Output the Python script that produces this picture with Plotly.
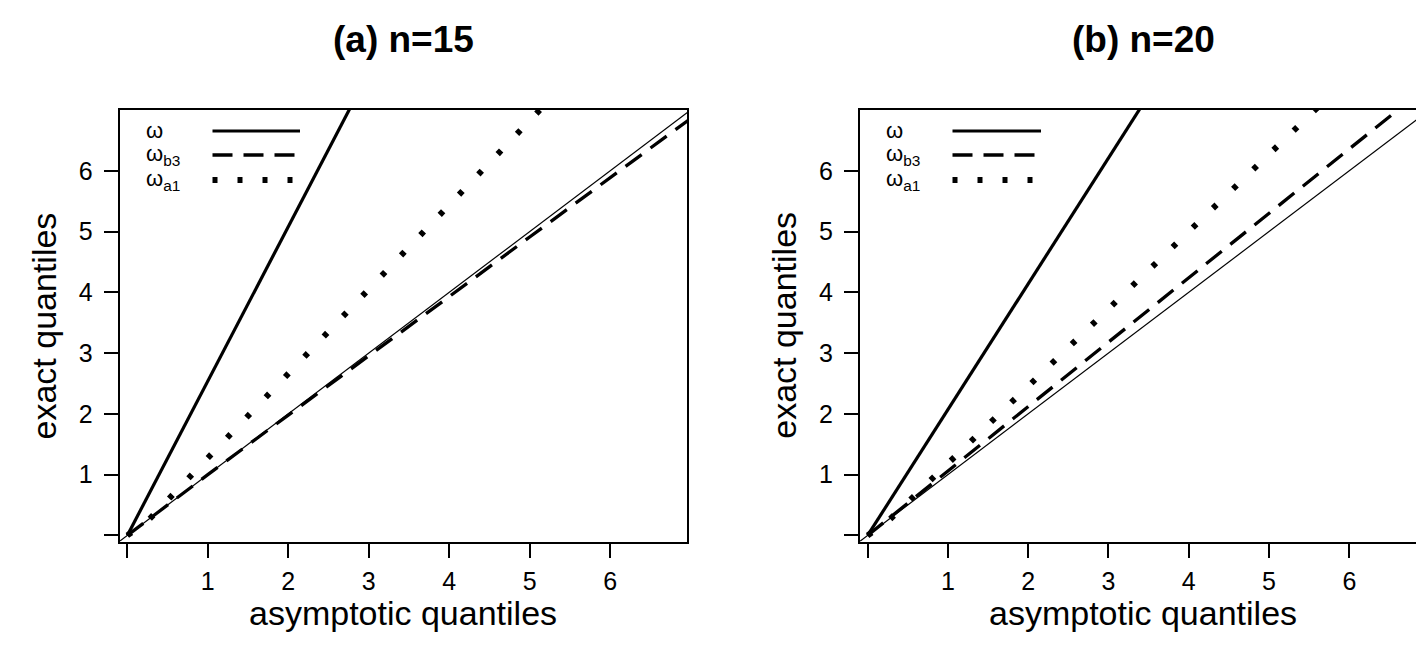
import plotly.graph_objects as go

W, H = 1424, 645

# ---------------- data ----------------
# panel (a) n=15
a_omega_x = [0, 1, 2, 3]
a_omega_y = [0, 2.54, 5.08, 7.62]
a_b3_x = [0, 1, 2, 3, 4, 5, 6, 7]
a_b3_y = [0, 1.00, 1.98, 2.95, 3.93, 4.91, 5.88, 6.86]
a_a1_x = [0, 0.25, 0.5, 1, 2, 3, 4, 5, 5.5]
a_a1_y = [0, 0.235, 0.58, 1.275, 2.66, 4.045, 5.43, 6.84, 7.52]
# panel (b) n=20
b_omega_x = [0, 1, 2, 3, 4]
b_omega_y = [0, 2.07, 4.14, 6.21, 8.28]
b_b3_x = [0, 1, 2, 3, 4, 5, 6, 7]
b_b3_y = [0, 1.06, 2.12, 3.18, 4.24, 5.30, 6.36, 7.42]
b_a1_x = [0, 0.25, 0.5, 1, 2, 3, 4, 5, 6]
b_a1_y = [0, 0.23, 0.548, 1.184, 2.456, 3.728, 5.0, 6.272, 7.544]
# reference diagonal
ref_x = [-0.3, 7.3]
ref_y = [-0.3, 7.3]

tick_vals = [0, 1, 2, 3, 4, 5, 6]
tick_text = ["", "1", "2", "3", "4", "5", "6"]
titles = ["(a) n=15", "(b) n=20"]
legend_labels = ["ω", "ω<sub>b3</sub>", "ω<sub>a1</sub>"]

FONT = "Liberation Sans, Arial, Helvetica, sans-serif"
DOT = "5px,23px"
DASH = "20px,11px"

fig = go.Figure()

panels = [
    ("x", "y", a_omega_x, a_omega_y, a_b3_x, a_b3_y, a_a1_x, a_a1_y),
    ("x2", "y2", b_omega_x, b_omega_y, b_b3_x, b_b3_y, b_a1_x, b_a1_y),
]
for xa, ya, ox, oy, bx, by, dx, dy in panels:
    fig.add_trace(go.Scatter(x=ref_x, y=ref_y, xaxis=xa, yaxis=ya, mode="lines",
                             line=dict(color="black", width=1.2), showlegend=False, hoverinfo="skip"))
    fig.add_trace(go.Scatter(x=ox, y=oy, xaxis=xa, yaxis=ya, mode="lines",
                             line=dict(color="black", width=3.2), showlegend=False))
    fig.add_trace(go.Scatter(x=bx, y=by, xaxis=xa, yaxis=ya, mode="lines",
                             line=dict(color="black", width=3.3, dash=DASH), showlegend=False))
    fig.add_trace(go.Scatter(x=dx, y=dy, xaxis=xa, yaxis=ya, mode="lines",
                             line=dict(color="black", width=6, dash=DOT), showlegend=False))

# plot box pixel positions
boxes = [(111.7, 679.0), (852.0, 1418.0)]
top_px, bot_px = 102.0, 533.5
ydom = [(H - bot_px) / H, (H - top_px) / H]

axis_common = dict(
    showline=True, mirror=True, linecolor="black", linewidth=2,
    ticks="outside", ticklen=14, tickwidth=2, tickcolor="black",
    showgrid=False, zeroline=False,
    tickvals=tick_vals, ticktext=tick_text,
    tickfont=dict(family=FONT, size=25, color="black"),
)

layout = dict(
    width=W, height=H, plot_bgcolor="white", paper_bgcolor="white",
    margin=dict(l=0, r=0, t=0, b=0), showlegend=False,
    font=dict(family=FONT, color="black"),
)
for i, (l, r) in enumerate(boxes):
    sfx = "" if i == 0 else "2"
    layout["xaxis" + sfx] = dict(axis_common, domain=[l / W, r / W], range=[-0.095, 6.955],
                                 anchor="y" + sfx, ticklabelstandoff=2)
    layout["yaxis" + sfx] = dict(axis_common, domain=ydom, range=[-0.1, 7.0],
                                 anchor="x" + sfx, ticklabelstandoff=6)
fig.update_layout(**layout)

annotations = []
shapes = []
legend_text_x = [136, 876]
legend_line_x = [(204.5, 292), (944.5, 1033)]
legend_y = [123, 147, 172]
styles = [dict(width=3.2), dict(width=3.3, dash=DASH), dict(width=6, dash="5px,20px")]
for i, (l, r) in enumerate(boxes):
    cx = (l + r) / 2
    annotations.append(dict(text="<b>" + titles[i] + "</b>", x=cx / W, y=1 - 31 / H, xref="paper", yref="paper",
                            showarrow=False, font=dict(size=37, family=FONT), xanchor="center", yanchor="middle"))
    annotations.append(dict(text="asymptotic quantiles", x=cx / W, y=1 - 605 / H, xref="paper", yref="paper",
                            showarrow=False, font=dict(size=34, family=FONT), xanchor="center", yanchor="middle"))
    annotations.append(dict(text="exact quantiles", x=(l - 76) / W, y=1 - ((top_px + bot_px) / 2) / H,
                            xref="paper", yref="paper", textangle=-90,
                            showarrow=False, font=dict(size=34, family=FONT), xanchor="center", yanchor="middle"))
    for j, lab in enumerate(legend_labels):
        annotations.append(dict(text=lab, x=legend_text_x[i] / W, y=1 - legend_y[j] / H, xref="paper", yref="paper",
                                showarrow=False, font=dict(size=22, family=FONT), xanchor="left", yanchor="middle"))
        x0, x1 = legend_line_x[i]
        shapes.append(dict(type="line", xref="paper", yref="paper", x0=x0 / W, x1=x1 / W,
                           y0=1 - legend_y[j] / H, y1=1 - legend_y[j] / H,
                           line=dict(color="black", **styles[j])))
fig.update_layout(annotations=annotations, shapes=shapes)

fig.write_html("out.html")
